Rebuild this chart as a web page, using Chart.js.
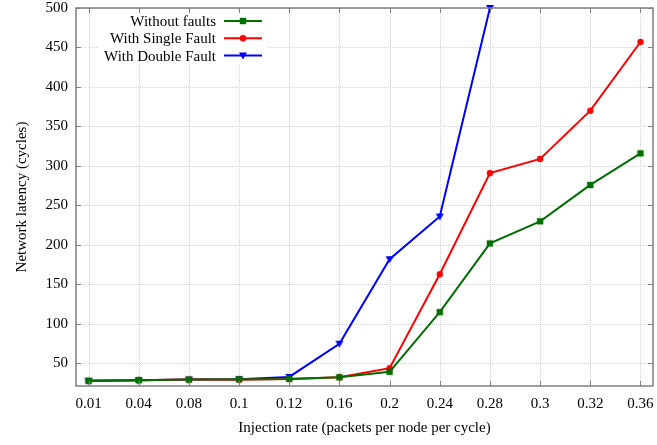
<!DOCTYPE html>
<html>
<head>
<meta charset="utf-8">
<script src="https://cdn.jsdelivr.net/npm/chart.js@4.4.1/dist/chart.umd.min.js"></script>
<style>
html,body{margin:0;padding:0;background:#fff;}
#wrap{width:657px;height:445px;position:relative;}
</style>
</head>
<body>
<div id="wrap"><canvas id="c" width="657" height="445"></canvas></div>
<script>
const categories = ['0.01','0.04','0.08','0.1','0.12','0.16','0.2','0.24','0.28','0.3','0.32','0.36'];
const withoutFaults = [28, 28.8, 29.6, 30, 30.5, 32.5, 39.5, 115, 202, 230, 276, 316];
const singleFault   = [28, 28.8, 29.6, 29.5, 30.4, 32.5, 44, 163, 291, 309, 370, 457];
const doubleFault   = [28, 28.8, 29.6, 30, 33, 75, 182, 236, 500, null, null, null];
const yTicks = [50,100,150,200,250,300,350,400,450,500];
const seriesNames = ['Without faults','With Single Fault','With Double Fault'];
const seriesColors = ['#006e00','#ff0000','#0000ff'];
const seriesMarkers = ['rect','circle','triangleDown'];

const FONT = "'Liberation Serif', 'Times New Roman', serif";

function toPts(arr){ return arr.map((v,i)=>({x:i,y:v})); }

function drawMarker(ctx, type, x, y, color){
  ctx.save();
  ctx.fillStyle = color;
  ctx.beginPath();
  if(type==='rect'){ ctx.rect(x-3.2,y-3.2,6.4,6.4); }
  else if(type==='circle'){ ctx.arc(x,y,3.2,0,Math.PI*2); }
  else { ctx.moveTo(x-4,y-3); ctx.lineTo(x+4,y-3); ctx.lineTo(x,y+4); ctx.closePath(); }
  ctx.fill();
  ctx.restore();
}

function makeMarker(type, color){
  const c=document.createElement('canvas'); c.width=10;c.height=10;
  const g=c.getContext('2d');
  drawMarker(g, type, 5, 5, color);
  return c;
}

const frame = {
  id:'frame',
  beforeDatasetsDraw(chart){
    const {ctx, chartArea:a, scales} = chart;
    ctx.save();
    ctx.strokeStyle='#d2d2d2';
    ctx.lineWidth=1;
    ctx.setLineDash([1,1]);
    scales.x.ticks.forEach(t=>{
      const x = Math.round(scales.x.getPixelForValue(t.value))+0.5;
      ctx.beginPath(); ctx.moveTo(x,a.top); ctx.lineTo(x,a.bottom); ctx.stroke();
    });
    scales.y.ticks.forEach(t=>{
      const y = Math.round(scales.y.getPixelForValue(t.value))+0.5;
      ctx.beginPath(); ctx.moveTo(a.left,y); ctx.lineTo(a.right,y); ctx.stroke();
    });
    ctx.restore();
    // legend background box (hides grid)
    ctx.save();
    ctx.fillStyle='#fff';
    ctx.fillRect(a.left+22, a.top+1, 192-22, 55);
    ctx.restore();
  },
  afterDraw(chart){
    const {ctx, chartArea:a, scales} = chart;
    ctx.save();
    ctx.strokeStyle='#7f7f7f';
    ctx.lineWidth=1.5;
    ctx.strokeRect(a.left, a.top, a.right-a.left, a.bottom-a.top);
    ctx.lineWidth=1;
    scales.x.ticks.forEach((t,i)=>{
      const x = Math.round(scales.x.getPixelForValue(t.value))+0.5;
      ctx.beginPath();
      ctx.moveTo(x,a.bottom); ctx.lineTo(x,a.bottom-5);
      ctx.moveTo(x,a.top); ctx.lineTo(x,a.top+5);
      ctx.stroke();
    });
    scales.y.ticks.forEach(t=>{
      const y = Math.round(scales.y.getPixelForValue(t.value))+0.5;
      ctx.beginPath();
      ctx.moveTo(a.left,y); ctx.lineTo(a.left+5,y);
      ctx.moveTo(a.right,y); ctx.lineTo(a.right-5,y);
      ctx.stroke();
    });
    ctx.restore();
  },
  afterDatasetsDraw(chart){
    const {ctx, chartArea:a} = chart;
    ctx.save();
    ctx.font = "15px " + FONT;
    ctx.textAlign='right';
    ctx.textBaseline='middle';
    chart.data.datasets.forEach((ds,i)=>{
      const y = a.top + 13 + i*17.3;
      ctx.fillStyle='#000';
      ctx.fillText(ds.label, a.left+140, y+1);
      ctx.strokeStyle=ds.borderColor;
      ctx.lineWidth=2;
      ctx.beginPath(); ctx.moveTo(a.left+148,y); ctx.lineTo(a.left+186,y); ctx.stroke();
      drawMarker(ctx, seriesMarkers[i], a.left+167, y, ds.borderColor);
    });
    ctx.restore();
  }
};

new Chart(document.getElementById('c'), {
  type:'line',
  data:{
    datasets:[withoutFaults, singleFault, doubleFault].map((arr,i)=>({
      label: seriesNames[i],
      data: toPts(arr),
      borderColor: seriesColors[i],
      backgroundColor: seriesColors[i],
      borderWidth: 2,
      pointStyle: makeMarker(seriesMarkers[i], seriesColors[i]),
      pointRadius: 4,
      pointBorderWidth: 0,
      tension: 0,
      spanGaps: false,
      clip: 6
    }))
  },
  options:{
    responsive:false,
    animation:false,
    devicePixelRatio:1,
    layout:{padding:{top:8,right:1,left:0,bottom:0}},
    plugins:{legend:{display:false}, tooltip:{enabled:false}},
    scales:{
      x:{
        type:'linear',
        min:-0.25, max:11.25,
        afterBuildTicks(s){ s.ticks = categories.map((c,i)=>({value:i})); },
        afterFit(s){ s.height = 59; s.paddingLeft = 0; s.paddingRight = 0; },
        ticks:{
          callback:(v)=>categories[v],
          color:'#000',
          font:{family:FONT,size:15},
          padding:9,
          maxRotation:0,
          autoSkip:false
        },
        grid:{display:false, drawTicks:false},
        border:{display:false},
        title:{display:true, text:'Injection rate (packets per node per cycle)', color:'#000', font:{family:FONT,size:15}, padding:{top:0,bottom:8}}
      },
      y:{
        type:'linear',
        min:21.5, max:500,
        afterBuildTicks(s){ s.ticks = yTicks.map(v=>({value:v})); },
        afterFit(s){ s.width = 76; s.paddingTop = 0; s.paddingBottom = 0; },
        ticks:{color:'#000', font:{family:FONT,size:15}, padding:8},
        grid:{display:false, drawTicks:false},
        border:{display:false},
        title:{display:true, text:'Network latency (cycles)', color:'#000', font:{family:FONT,size:15}, padding:{top:13,bottom:0}}
      }
    }
  },
  plugins:[frame]
});
</script>
</body>
</html>
